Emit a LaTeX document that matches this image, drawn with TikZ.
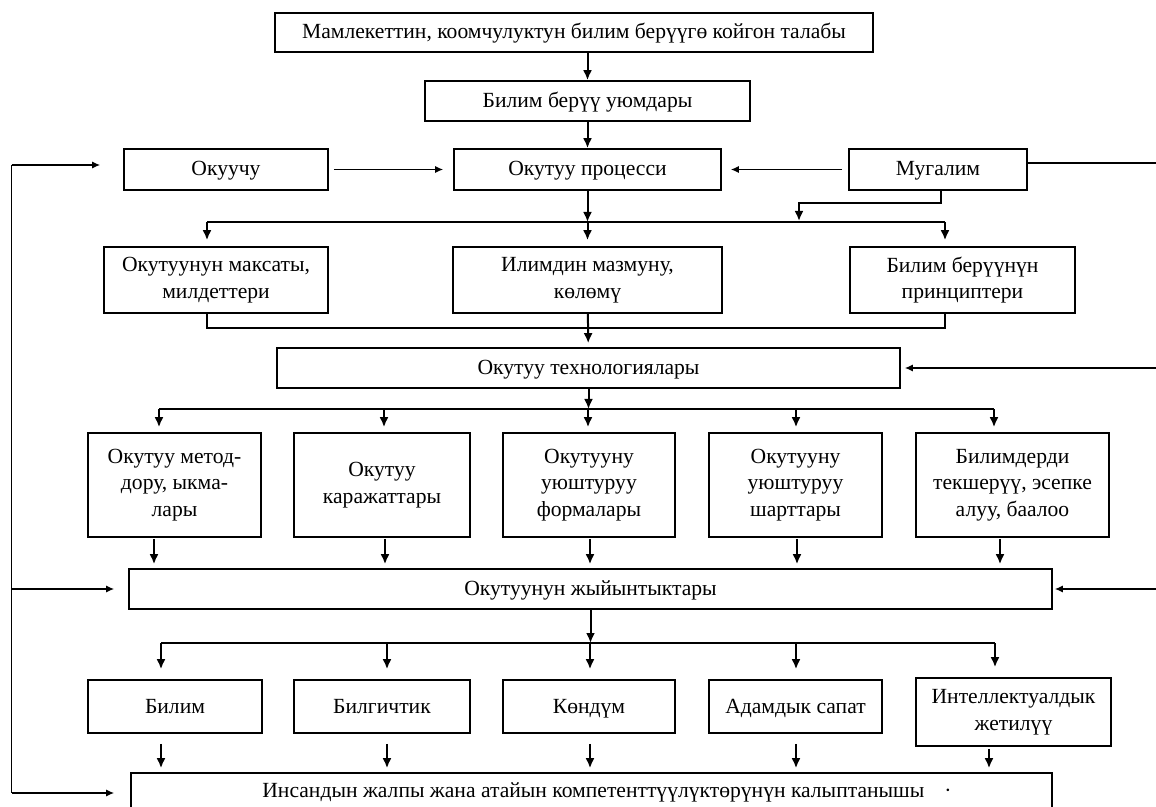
\documentclass[tikz,border=0pt]{standalone}
\usepackage{fontspec}
\setmainfont{Liberation Serif}
\usetikzlibrary{calc,arrows.meta}

\tikzset{
  blk/.style={draw, line width=0.8pt, inner sep=0pt, align=center,
    font=\fontsize{10.8}{13.3}\selectfont},
  oneline/.style={text height=8.5pt, text depth=2pt},
  ln/.style={line width=1pt},
  fb/.style={line width=0.7pt, >={Latex[length=4pt,width=3.5pt]}},
}

\begin{document}
\begin{tikzpicture}[x=0.5pt,y=-0.5pt,>={Latex[length=5pt,width=4.5pt]}]
    \useasboundingbox (0,0) rectangle (1156,807);

    % upper part
    \node[blk, oneline, minimum width=299pt, minimum height=19.5pt] (demand) at (574,32.5) {Мамлекеттин, коомчулуктун билим берүүгө койгон талабы};
    \node[blk, oneline, minimum width=162.5pt, minimum height=20pt] (org) at (587.5,101) {Билим берүү уюмдары};
    \node[blk, oneline, minimum width=102pt, minimum height=20.5pt] (pupil) at (226,169.5) {Окуучу};
    \node[blk, oneline, minimum width=133.5pt, minimum height=20.5pt] (process) at (587.5,169.5) {Окутуу процесси};
    \node[blk, oneline, minimum width=89pt, minimum height=20.5pt] (teacher) at (938,169.5) {Мугалим};

    \node[blk, minimum width=112pt, minimum height=33pt] (goal) at (216,280) {Окутуунун максаты,\\милдеттери};
    \node[blk, minimum width=134.5pt, minimum height=33pt] (content) at (587.5,280) {Илимдин мазмуну,\\көлөмү};
    \node[blk, minimum width=112.5pt, minimum height=33pt] (principles) at (962.5,280) {Билим берүүнүн\\принциптери};

    \node[blk, oneline, minimum width=311.5pt, minimum height=20pt] (tech) at (588.5,368) {Окутуу технологиялары};

    % row of means
    \node[blk, minimum width=86.5pt, minimum height=52pt] (methods) at (174.5,485) {Окутуу метод-\\дору, ыкма-\\лары};
    \node[blk, minimum width=88pt, minimum height=52pt] (means) at (382,485) {Окутуу\\каражаттары};
    \node[blk, minimum width=86pt, minimum height=52pt] (forms) at (589,485) {Окутууну\\уюштуруу\\формалары};
    \node[blk, minimum width=86.5pt, minimum height=52pt] (terms) at (795.5,485) {Окутууну\\уюштуруу\\шарттары};
    \node[blk, minimum width=96.5pt, minimum height=52pt] (check) at (1012.5,485) {Билимдерди\\текшерүү, эсепке\\алуу, баалоо};

    \node[blk, oneline, minimum width=461.5pt, minimum height=20pt] (results) at (590.5,589) {Окутуунун жыйынтыктары};

    % row of results
    \node[blk, oneline, minimum width=87pt, minimum height=26.5pt] (knowledge) at (175,706.5) {Билим};
    \node[blk, oneline, minimum width=88pt, minimum height=26.5pt] (skill) at (382,706.5) {Билгичтик};
    \node[blk, oneline, minimum width=86pt, minimum height=26.5pt] (habit) at (589,706.5) {Көндүм};
    \node[blk, oneline, minimum width=86.5pt, minimum height=26.5pt] (quality) at (795.5,706.5) {Адамдык сапат};
    \node[blk, minimum width=97.5pt, minimum height=34pt] (intellect) at (1013.5,712) {Интеллектуалдык\\жетилүү};

    \node[blk, minimum width=460.5pt, minimum height=28.5pt] (final) at (591.5,801.5) {};
    \node[font=\fontsize{10.8}{13.3}\selectfont, inner sep=0pt, anchor=west] (finaltxt) at (262,792) {Инсандын жалпы жана атайын компетенттүүлүктөрүнүн калыптанышы\hspace{10pt}·};

    % main flow
    \draw[->,ln] (demand.south -| org.north) -- (org.north);
    \draw[->,ln] (org) -- (process);

    \coordinate (bus1l) at (207,222);
    \coordinate (bus1r) at (945,222);
    \draw[->,ln] (process) -- (process |- bus1l);
    \draw[ln] (bus1l) -- (bus1r);
    \draw[->,ln,shorten >=3pt] (bus1l) -- (bus1l |- goal.north);
    \draw[->,ln,shorten >=3pt] (process |- bus1l) -- (content);
    \draw[->,ln,shorten >=3pt] (bus1r) -- (bus1r |- principles.north);

    \coordinate (tstem) at (941,203);
    \coordinate (tturn) at (799,203);
    \draw[->,ln] (teacher.south -| tstem) -- (tstem) -- (tturn) -- ($(tturn |- bus1l)+(0,-1)$);

    \coordinate (bus2l) at (207,328);
    \coordinate (bus2r) at (945,328);
    \draw[ln] (bus2l |- goal.south) -- (bus2l) -- (bus2r) -- (bus2r |- principles.south);
    \draw[->,ln,shorten >=2pt] (content) -- (tech);

    \coordinate (bus3l) at (159,409);
    \coordinate (bus3r) at (994,409);
    \draw[->,ln] (tech) -- (tech |- bus3l);
    \draw[ln] (bus3l) -- (bus3r);
    \foreach \n/\x in {methods/159, means/384, forms/588, terms/796, check/994} {
      \coordinate (d) at (\x,409);
      \draw[->,ln,shorten >=2.5pt] (d) -- (d |- \n.north);
    }
    \foreach \n/\x in {methods/154, means/385, forms/590, terms/797, check/1000} {
      \coordinate (d) at (\x,0);
      \draw[->,ln,shorten <=0.5pt,shorten >=2pt] (d |- \n.south) -- (d |- results.north);
    }

    \coordinate (bus4l) at (161,643);
    \coordinate (bus4r) at (995,643);
    \draw[->,ln] (results) -- (results |- bus4l);
    \draw[ln] (bus4l) -- (bus4r);
    \foreach \n/\x in {knowledge/161, skill/387, habit/590, quality/796, intellect/995} {
      \coordinate (d) at (\x,643);
      \draw[->,ln,shorten >=5pt] (d) -- (d |- \n.north);
    }
    \foreach \n/\x/\s in {knowledge/161/5, skill/387/5, habit/590/5, quality/796/5, intellect/989/1} {
      \coordinate (d) at (\x,0);
      \draw[->,ln,shorten <=\s pt,shorten >=2pt] (d |- \n.south) -- (d |- final.north);
    }

    % pupil and teacher into the process
    \draw[->,fb,shorten <=2.5pt,shorten >=5pt] (pupil) -- (process);
    \draw[->,fb,shorten <=3pt,shorten >=4.5pt] (teacher) -- (process);

    % feedback on the left
    \coordinate (fbtop) at (11.5,165);
    \coordinate (fbbot) at (11.5,793);
    \draw[fb] (fbtop) -- (fbbot);
    \draw[->,fb,shorten >=11.5pt] (fbtop) -- (fbtop -| pupil.west);
    \draw[->,fb,shorten >=7pt] (fbtop |- results.west) -- (results.west);
    \draw[->,fb,shorten >=8pt] (fbbot) -- (fbbot -| final.west);

    % teacher on the right
    \coordinate (fbr) at (1156,163);
    \draw[fb] (teacher.east |- fbr) -- (fbr);
    \draw[->,fb,shorten >=2pt] (fbr |- tech.east) -- (tech.east);
    \draw[->,fb,shorten >=1pt] (fbr |- results.east) -- (results.east);
\end{tikzpicture}
\end{document}
